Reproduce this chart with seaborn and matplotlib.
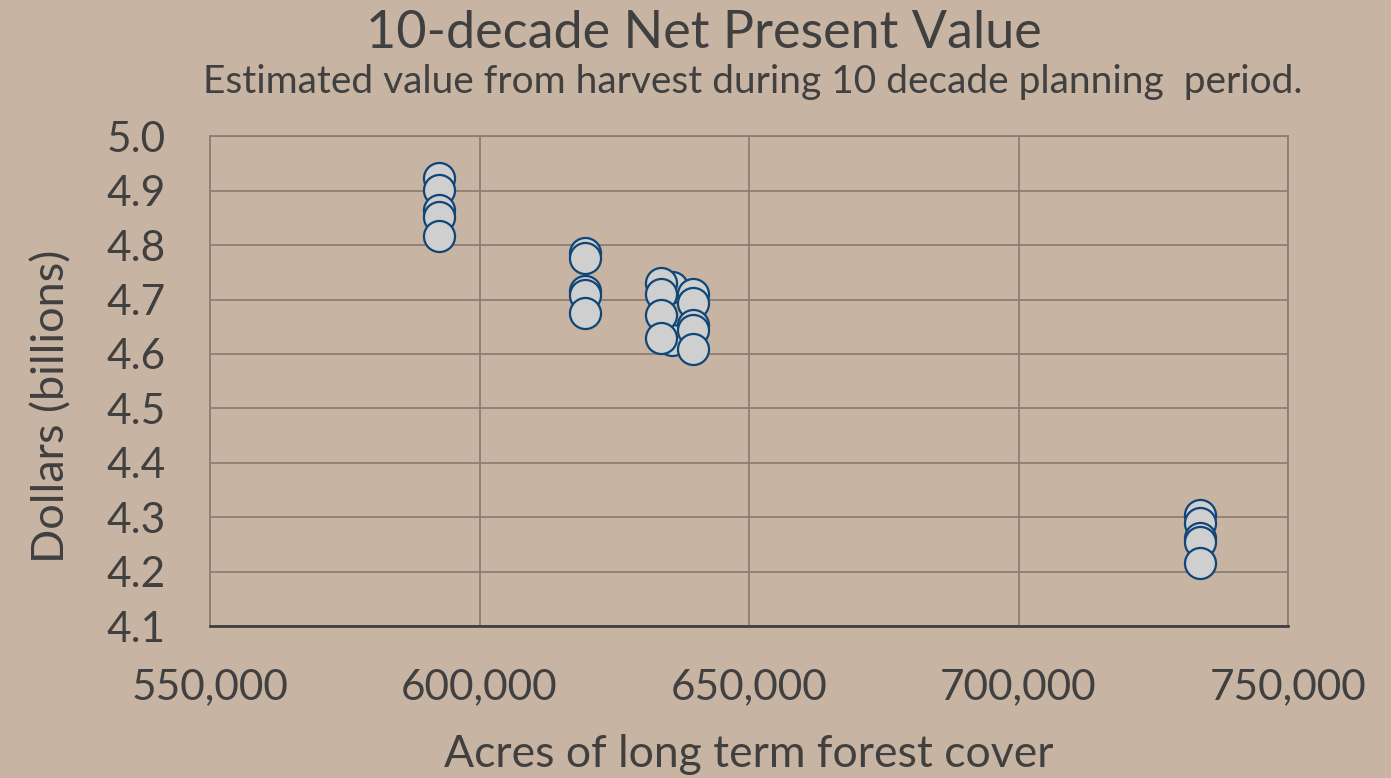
import matplotlib
matplotlib.use('Agg')
import matplotlib.pyplot as plt
import seaborn as sns
import pandas as pd
from matplotlib.ticker import FuncFormatter, MultipleLocator

bg = '#C8B4A2'
grid = '#8C7E73'
ink = '#404040'

# acres of long term forest cover and 10-decade NPV (billions)
acres = [
    592500, 592500, 592500, 592500, 592500,
    619500, 619500, 619500, 619500, 619500,
    633700, 633700, 633700, 633700,
    635700, 635700,
    639600, 639600, 639600, 639600, 639600,
    733700, 733700, 733700, 733700, 733700,
]
npv = [
    4.923, 4.901, 4.864, 4.851, 4.816,
    4.785, 4.776, 4.715, 4.708, 4.675,
    4.730, 4.711, 4.671, 4.629,
    4.723, 4.625,
    4.711, 4.693, 4.653, 4.644, 4.609,
    4.304, 4.289, 4.262, 4.254, 4.216,
]
df = pd.DataFrame({'acres': acres, 'npv': npv})

sns.set_theme(style='white')
plt.rcParams['font.family'] = ['Lato', 'DejaVu Sans']

fig = plt.figure(figsize=(13.91, 7.78), dpi=100, facecolor=bg)
ax = fig.add_axes([0.151, 0.195, 0.775, 0.63], facecolor=bg)

# draw middle (hidden) points first so the outer columns sit on top
order = [14, 15] + [i for i in range(len(acres)) if i not in (14, 15)]
sns.scatterplot(data=df.iloc[order], x='acres', y='npv', ax=ax, s=500,
                color='#CFCFCF', edgecolor='#0F4577', linewidth=1.6,
                legend=False, zorder=3)

ax.set_xlim(550000, 750000)
ax.set_ylim(4.1, 5.0)
ax.xaxis.set_major_locator(MultipleLocator(50000))
ax.yaxis.set_major_locator(MultipleLocator(0.1))
ax.xaxis.set_major_formatter(FuncFormatter(lambda v, p: '{:,.0f}'.format(v)))
ax.yaxis.set_major_formatter(FuncFormatter(lambda v, p: '{:.1f}'.format(v)))
ax.grid(True, color=grid, linewidth=1.3)
ax.set_axisbelow(True)
for s in ['top', 'right', 'left']:
    ax.spines[s].set_color(grid)
    ax.spines[s].set_linewidth(1.3)
ax.spines['bottom'].set_color(ink)
ax.spines['bottom'].set_linewidth(2)
ax.tick_params(axis='x', length=0, pad=30, labelsize=30.5, labelcolor=ink)
ax.tick_params(axis='y', length=0, pad=32, labelsize=30.5, labelcolor=ink)
for lab in ax.get_yticklabels():
    lab.set_horizontalalignment('right')

ax.set_xlabel('Acres of long term forest cover', fontsize=32, color=ink, labelpad=20)
ax.set_ylabel('Dollars (billions)', fontsize=32.5, color=ink, labelpad=10)
ax.yaxis.set_label_coords(-0.128, 0.449)

fig.text(0.506, 0.957, '10-decade Net Present Value', ha='center', va='center',
         fontsize=37.5, color=ink)
fig.text(0.541, 0.894, 'Estimated value from harvest during 10 decade planning  period.',
         ha='center', va='center', fontsize=28, color=ink)

fig.savefig('out.png', dpi=100, facecolor=bg)
